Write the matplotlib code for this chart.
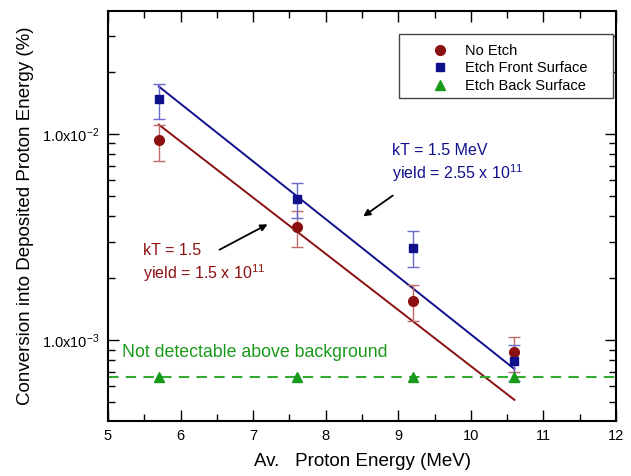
import matplotlib
matplotlib.use("Agg")
import matplotlib.pyplot as plt
from matplotlib.ticker import MultipleLocator, LogLocator, NullFormatter
from matplotlib.patches import Rectangle

plt.rcParams['font.family'] = ['Liberation Sans', 'DejaVu Sans']
plt.rcParams['mathtext.fontset'] = 'custom'
plt.rcParams['mathtext.rm'] = 'Liberation Sans'
plt.rcParams['mathtext.it'] = 'Liberation Sans:italic'

# ---- data ----
energy = [5.7, 7.6, 9.2, 10.6]

no_etch = [9.32e-3, 3.53e-3, 1.55e-3, 8.72e-4]
no_etch_lo = [7.4e-3, 2.82e-3, 1.24e-3, 6.97e-4]
no_etch_hi = [1.105e-2, 4.24e-3, 1.86e-3, 1.04e-3]

front = [1.47e-2, 4.84e-3, 2.81e-3, 7.92e-4]
front_lo = [1.18e-2, 3.9e-3, 2.25e-3, 6.34e-4]
front_hi = [1.75e-2, 5.8e-3, 3.37e-3, 9.5e-4]

back = [6.65e-4, 6.65e-4, 6.65e-4, 6.65e-4]
background_level = 6.65e-4

fit_x = [5.7, 10.6]
fit_front = [1.70e-2, 7.24e-4]
fit_no_etch = [1.11e-2, 5.13e-4]

series_labels = ["No Etch", "Etch Front Surface", "Etch Back Surface"]
ytick_vals = [1e-3, 1e-2]
ytick_labels = ["1.0x10$^{-3}$", "1.0x10$^{-2}$"]
xticks = [5, 6, 7, 8, 9, 10, 11, 12]

RED = '#8b1010'
BLUE = '#10108c'
GREEN = '#1a9a1a'

fig = plt.figure(figsize=(6.31, 4.76), dpi=100)
ax = fig.add_axes([108/631, 1-421/476, 508/631, 410/476])
ax.set_yscale('log')
ax.set_xlim(5, 12)
ax.set_ylim(4.05e-4, 3.95e-2)

# fits
ax.plot(fit_x, fit_front, color=BLUE, lw=1.4, zorder=2)
ax.plot(fit_x, fit_no_etch, color=RED, lw=1.4, zorder=2)

# background line
ax.axhline(background_level, color='#33aa33', lw=1.5, ls=(0, (5, 3.5)), zorder=2)

# error bars
def errs(v, lo, hi):
    return [[a - b for a, b in zip(v, lo)], [c - a for a, c in zip(v, hi)]]

ax.errorbar(energy, no_etch, yerr=errs(no_etch, no_etch_lo, no_etch_hi), fmt='none',
            ecolor='#c06a6a', elinewidth=1.0, capsize=4, capthick=1.0, zorder=3)
ax.errorbar(energy, front, yerr=errs(front, front_lo, front_hi), fmt='none',
            ecolor='#6a6acc', elinewidth=1.0, capsize=4, capthick=1.0, zorder=3)

ax.plot(energy, no_etch, 'o', color=RED, ms=7, label=series_labels[0], zorder=4)
ax.plot(energy, front, 's', color=BLUE, ms=6, label=series_labels[1], zorder=4)
ax.plot(energy, back, '^', color=GREEN, ms=7.5, label=series_labels[2], zorder=4)

# ticks
ax.set_xticks(xticks)
ax.xaxis.set_minor_locator(MultipleLocator(0.5))
ax.set_yticks(ytick_vals)
ax.set_yticklabels(ytick_labels)
ax.yaxis.set_minor_locator(LogLocator(base=10, subs=range(2, 10), numticks=20))
ax.yaxis.set_minor_formatter(NullFormatter())
ax.tick_params(which='both', direction='in', top=True, right=True, width=1.0)
ax.tick_params(axis='x', labelsize=10.5)
ax.tick_params(axis='y', labelsize=10.5)
ax.tick_params(which='major', length=8, pad=6)
ax.tick_params(which='minor', length=5)
for s in ax.spines.values():
    s.set_linewidth(1.5)

ax.set_xlabel("Av.   Proton Energy (MeV)", fontsize=13.5, labelpad=7)
ax.set_ylabel("Conversion into Deposited Proton Energy (%)", fontsize=13.5, labelpad=6)

# legend (frame drawn separately)
ax.add_patch(Rectangle((0.5728, 0.7878), 0.9941 - 0.5728, 0.9439 - 0.7878,
                       transform=ax.transAxes, facecolor='white', edgecolor='#444444',
                       lw=1.0, zorder=5))
leg = ax.legend(loc='upper left', bbox_to_anchor=(0.6248, 0.919), fontsize=10.5,
                frameon=False, borderpad=0, borderaxespad=0,
                handletextpad=0.71, labelspacing=0.22, handlelength=2.0)
leg.set_zorder(6)

# annotations
ax.text(0.559, 0.659, "kT = 1.5 MeV", transform=ax.transAxes, color=BLUE, fontsize=11.5, va='center')
ax.text(0.559, 0.6056, "yield = 2.55 x 10$^{11}$", transform=ax.transAxes, color=BLUE, fontsize=11.5, va='center')
ax.text(0.0689, 0.4154, "kT = 1.5", transform=ax.transAxes, color=RED, fontsize=11.5, va='center')
ax.text(0.0689, 0.361, "yield = 1.5 x 10$^{11}$", transform=ax.transAxes, color=RED, fontsize=11.5, va='center')
ax.text(0.0276, 0.168, "Not detectable above background", transform=ax.transAxes, color=GREEN,
        fontsize=12.8, va='center')

ax.annotate("", xy=(0.498, 0.4951), xytext=(0.565, 0.5537), xycoords='axes fraction',
            arrowprops=dict(arrowstyle='-|>', color='black', lw=1.3, mutation_scale=10))
ax.annotate("", xy=(0.3189, 0.4829), xytext=(0.2146, 0.4146), xycoords='axes fraction',
            arrowprops=dict(arrowstyle='-|>', color='black', lw=1.3, mutation_scale=10))

fig.savefig("out.png", dpi=100)
